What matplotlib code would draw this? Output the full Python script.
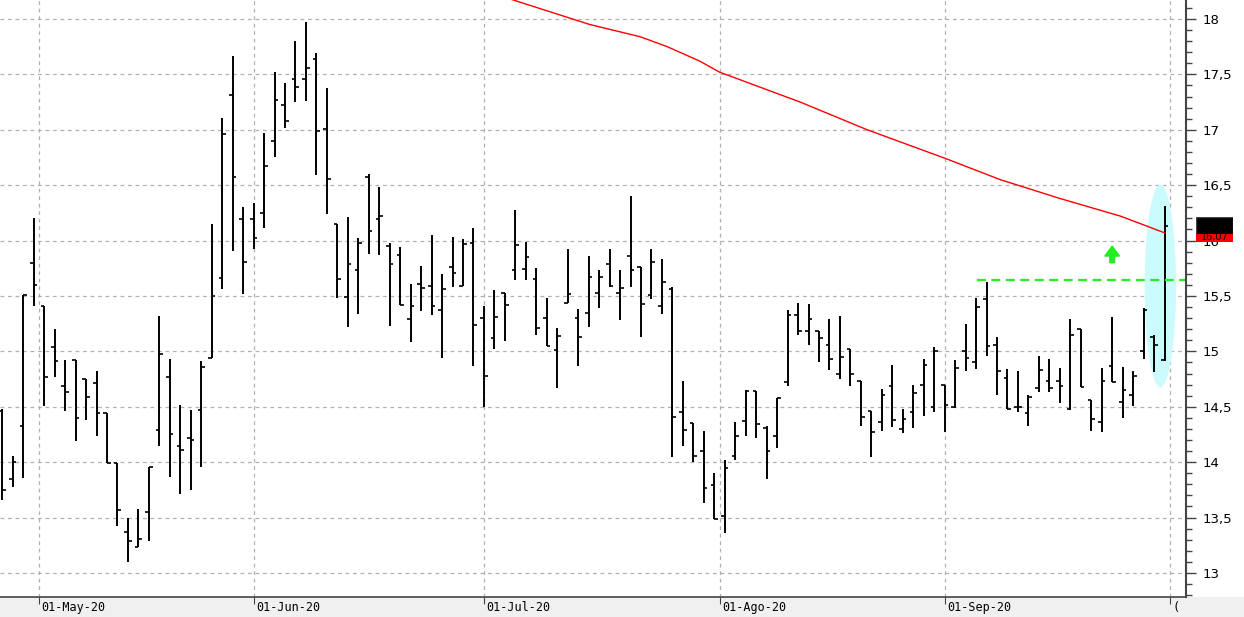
#!/usr/bin/env python3
"""Daily OHLC bar chart with moving average, breakout line and highlight."""

import matplotlib

matplotlib.use("Agg")
import matplotlib.pyplot as plt
import numpy as np
import pandas as pd
from matplotlib.patches import Ellipse, FancyArrow, Rectangle
from matplotlib.ticker import FuncFormatter, MultipleLocator

# Trading days (Spanish market, 1 May holiday)
DATES = [d for d in pd.bdate_range("2020-04-27", "2020-09-30") if d != pd.Timestamp("2020-05-01")]

OPEN = [14.46, 13.85, 14.33, 15.80, 15.41, 15.04, 14.69, 14.92, 14.75, 14.71, 14.44, 13.99,
        13.37, 13.23, 13.55, 14.29, 14.77, 14.15, 14.22, 14.47, 14.94, 15.66, 17.31, 16.19,
        16.19, 16.25, 16.90, 17.22, 17.46, 17.46, 17.64, 17.01, 16.15, 15.49, 15.73, 16.57,
        16.19, 15.95, 15.87, 15.29, 15.61, 15.59, 15.37, 15.76, 15.59, 15.98, 15.30, 15.12,
        15.53, 15.73, 15.74, 15.65, 15.30, 15.01, 15.44, 15.30, 15.35, 15.53, 15.79, 15.53,
        15.86, 15.76, 15.51, 15.41, 15.56, 14.45, 14.35, 14.10, 13.79, 13.51, 14.06, 14.37,
        14.64, 14.31, 14.24, 14.72, 15.33, 15.18, 15.18, 15.06, 14.80, 15.02, 14.73, 14.46,
        14.36, 14.69, 14.30, 14.45, 14.70, 14.50, 14.70, 14.50, 15.00, 14.90, 15.47, 15.06,
        14.76, 14.50, 14.44, 14.67, 14.73, 14.73, 14.48, 15.20, 14.56, 14.36, 14.87, 14.54,
        14.61, 15.00, 15.13, 14.92]
HIGH = [14.48, 14.06, 15.51, 16.20, 15.41, 15.20, 14.92, 14.92, 14.75, 14.82, 14.44, 13.99,
        13.50, 13.58, 13.96, 15.32, 14.93, 14.52, 14.47, 14.91, 16.15, 17.11, 17.67, 16.30,
        16.34, 16.97, 17.52, 17.42, 17.80, 17.97, 17.69, 17.38, 16.15, 16.21, 16.02, 16.60,
        16.48, 15.98, 15.94, 15.61, 15.77, 16.05, 15.70, 16.03, 16.01, 16.11, 15.41, 15.55,
        15.53, 16.28, 15.99, 15.75, 15.48, 15.21, 15.92, 15.38, 15.86, 15.73, 15.92, 15.73,
        16.40, 15.76, 15.92, 15.83, 15.58, 14.73, 14.35, 14.28, 13.90, 14.02, 14.36, 14.65,
        14.64, 14.33, 14.58, 15.37, 15.44, 15.43, 15.18, 15.29, 15.32, 15.02, 14.73, 14.46,
        14.66, 14.88, 14.48, 14.70, 14.93, 15.04, 14.70, 14.92, 15.25, 15.48, 15.63, 15.13,
        14.84, 14.82, 14.61, 14.96, 14.93, 14.85, 15.29, 15.20, 14.56, 14.85, 15.31, 14.86,
        14.82, 15.39, 15.15, 16.31]
LOW = [13.66, 13.78, 13.86, 15.41, 14.51, 14.77, 14.46, 14.19, 14.38, 14.24, 13.99, 13.42,
       13.10, 13.23, 13.29, 14.15, 13.87, 13.71, 13.75, 13.96, 14.94, 15.56, 15.91, 15.52,
       15.92, 16.11, 16.75, 17.02, 17.25, 17.26, 16.59, 16.24, 15.48, 15.22, 15.34, 15.88,
       15.87, 15.23, 15.42, 15.08, 15.36, 15.33, 14.94, 15.58, 15.59, 14.87, 14.50, 15.02,
       15.09, 15.64, 15.64, 15.15, 15.05, 14.67, 15.44, 14.87, 15.22, 15.39, 15.58, 15.28,
       15.58, 15.13, 15.47, 15.34, 14.05, 14.15, 14.00, 13.63, 13.49, 13.36, 14.02, 14.24,
       14.22, 13.85, 14.13, 14.69, 15.15, 15.06, 14.90, 14.83, 14.75, 14.69, 14.33, 14.05,
       14.28, 14.32, 14.26, 14.31, 14.42, 14.45, 14.27, 14.49, 14.82, 14.84, 14.96, 14.61,
       14.48, 14.45, 14.33, 14.63, 14.63, 14.53, 14.47, 14.68, 14.28, 14.27, 14.72, 14.40,
       14.51, 14.93, 14.81, 14.91]
CLOSE = [13.75, 14.00, 15.51, 15.60, 14.77, 14.91, 14.63, 14.40, 14.59, 14.44, 13.99, 13.57,
         13.29, 13.31, 13.96, 14.98, 14.25, 14.11, 14.20, 14.86, 15.50, 16.96, 16.57, 15.81,
         16.02, 16.67, 17.27, 17.08, 17.39, 17.56, 16.99, 16.56, 15.65, 15.79, 15.98, 16.09,
         16.22, 15.79, 15.42, 15.41, 15.57, 15.41, 15.56, 15.71, 15.97, 15.24, 14.78, 15.31,
         15.42, 15.96, 15.85, 15.21, 15.05, 15.14, 15.52, 15.13, 15.67, 15.67, 15.59, 15.57,
         15.73, 15.43, 15.81, 15.63, 14.41, 14.29, 14.06, 13.77, 13.49, 13.95, 14.24, 14.64,
         14.34, 14.10, 14.58, 15.33, 15.18, 15.29, 15.12, 14.93, 14.95, 14.80, 14.41, 14.27,
         14.61, 14.38, 14.39, 14.62, 14.88, 15.00, 14.52, 14.85, 14.94, 15.40, 15.05, 14.82,
         14.48, 14.50, 14.59, 14.83, 14.67, 14.69, 15.15, 14.68, 14.39, 14.73, 14.72, 14.65,
         14.78, 15.37, 15.06, 16.13]

# Moving average readings (bar index, value)
MA_IDX = [48.5, 56.1, 60.9, 63.5, 66.6, 68.5, 76.2, 82.6, 90.1, 95.3, 101.0, 106.8, 111.0]
MA_VAL = [18.18, 17.95, 17.84, 17.75, 17.62, 17.52, 17.25, 17.00, 16.74, 16.55, 16.38, 16.22, 16.07]

RESIST_LEVEL = 15.64
RESIST_START = 93.1
MONTH_LABELS = ["01-May-20", "01-Jun-20", "01-Jul-20", "01-Ago-20", "01-Sep-20", "("]
MONTH_STARTS = ["2020-05-01", "2020-06-01", "2020-07-01", "2020-08-01", "2020-09-01", "2020-10-01"]
LAST_PRICE = "16,07"


def month_positions():
    idx = pd.DatetimeIndex(DATES)
    pos = []
    for m in MONTH_STARTS:
        ts = pd.Timestamp(m)
        k = int(np.searchsorted(idx, ts))
        if k < len(idx) and idx[k] == ts:
            pos.append(k)
        else:
            pos.append(k - 0.5)
    return pos


def main():
    fig = plt.figure(figsize=(12.44, 6.17), dpi=100)
    fig.patch.set_facecolor("white")
    # bottom date strip
    fig.patches.append(Rectangle((0, 0), 1, 20 / 617, transform=fig.transFigure,
                                 facecolor="#f0f0f0", edgecolor="none", zorder=-5))
    ax = fig.add_axes([0, 20 / 617, 1186 / 1244, 597 / 617])
    ax.set_zorder(1)
    ax.patch.set_alpha(0)
    n = len(OPEN)
    x = np.arange(len(DATES))[:n]

    ax.set_xlim(-0.22, 113.05)
    ax.set_ylim(12.783, 18.171)

    mpos = month_positions()
    for p in mpos:
        ax.axvline(p, color="#b0b0b0", linestyle=(0, (3, 3)), linewidth=0.9, zorder=1)
    for v in np.arange(13, 18.01, 0.5):
        ax.axhline(v, color="#b0b0b0", linestyle=(0, (3, 3)), linewidth=0.9, zorder=1)

    ax.add_patch(Ellipse((110.6, 15.59), 3.0, 1.83, facecolor="#ccfbfd", edgecolor="none", zorder=2))

    ax.vlines(x, LOW, HIGH, color="black", linewidth=1.4, zorder=3)
    ax.hlines(OPEN, x - 0.35, x, color="black", linewidth=1.2, zorder=3)
    ax.hlines(CLOSE, x, x + 0.35, color="black", linewidth=1.2, zorder=3)

    ax.plot(MA_IDX, MA_VAL, color="#ff0000", linewidth=1.0, zorder=4)
    ax.hlines(RESIST_LEVEL, RESIST_START, 113, color="#22ee22", linewidth=1.6,
              linestyles=(0, (4, 2.5)), zorder=4)
    ax.add_patch(FancyArrow(106.0, 15.80, 0, 0.06, width=0.45, head_width=1.4, head_length=0.09,
                            length_includes_head=False, color="#22ee22", zorder=4))

    ax.yaxis.tick_right()
    ax.yaxis.set_major_locator(MultipleLocator(0.5))
    ax.yaxis.set_minor_locator(MultipleLocator(0.1))
    ax.yaxis.set_major_formatter(FuncFormatter(lambda v, _: f"{v:g}".replace(".", ",")))
    ax.tick_params(axis="y", which="major", length=7, width=1, colors="#444444",
                   labelcolor="black", labelsize=9.5, pad=5)
    ax.tick_params(axis="y", which="minor", length=4, width=1, colors="#444444")
    ax.set_xticks(mpos)
    ax.set_xticklabels([])
    ax.tick_params(axis="x", length=5, width=0.8, colors="#444444", direction="out")
    for p, lab in zip(mpos, MONTH_LABELS):
        ax.annotate(lab, xy=(p, 0), xycoords=("data", "axes fraction"), xytext=(2, -3),
                    textcoords="offset points", ha="left", va="top", fontsize=8.5,
                    family="DejaVu Sans Mono", annotation_clip=False, zorder=10)
    for side in ["top", "left"]:
        ax.spines[side].set_visible(False)
    ax.spines["right"].set_color("#444444")
    ax.spines["right"].set_linewidth(1.5)
    ax.spines["bottom"].set_color("#444444")
    ax.spines["bottom"].set_linewidth(1.2)

    # last price box on the axis
    box = fig.add_axes([1196 / 1244, (617 - 242) / 617, 37 / 1244, 25 / 617])
    box.set_zorder(5)
    box.set_xlim(0, 1)
    box.set_ylim(0, 1)
    box.axis("off")
    box.add_patch(Rectangle((0, 0), 1, 1, facecolor="black", edgecolor="#444444"))
    box.add_patch(Rectangle((0, 0), 1, 0.32, facecolor="#ff0000", edgecolor="none"))
    box.text(0.5, 0.2, LAST_PRICE, color="black", fontsize=7, ha="center", va="center")

    fig.savefig("out.png", dpi=100)
    plt.close(fig)


if __name__ == "__main__":
    main()
